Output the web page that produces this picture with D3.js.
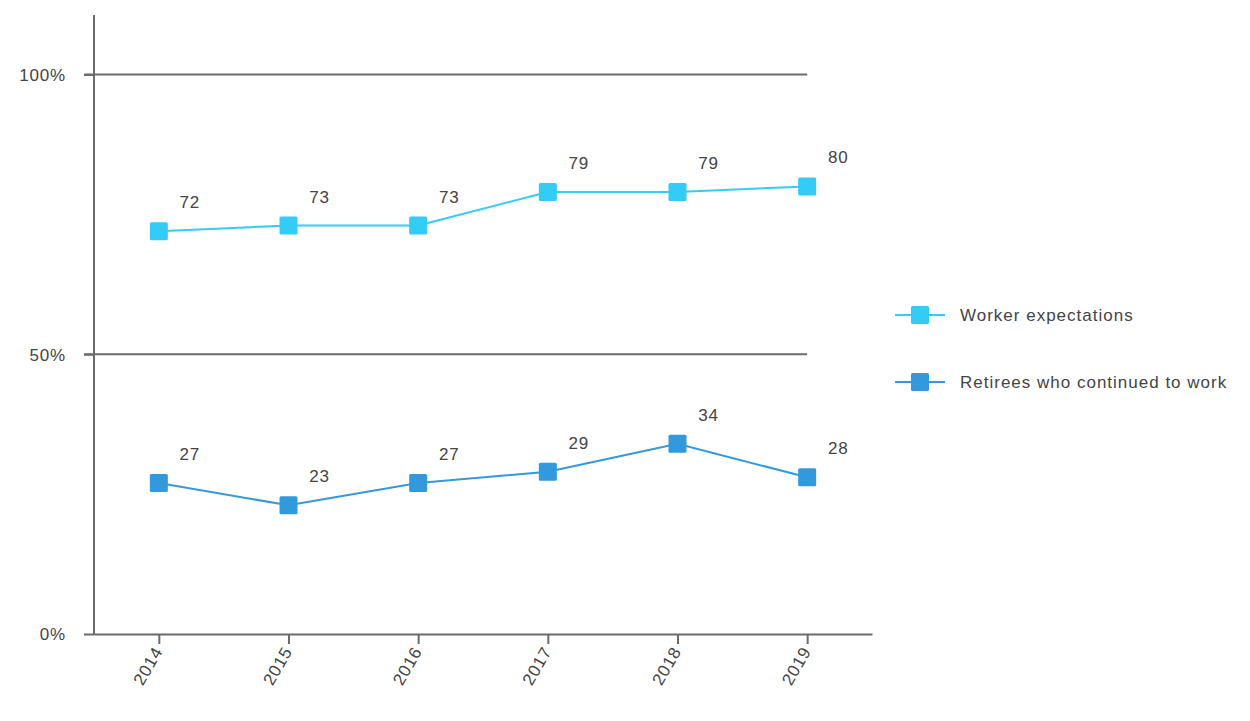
<!DOCTYPE html>
<html><head><meta charset="utf-8">
<script src="https://cdn.jsdelivr.net/npm/d3@7"></script>
<style>body{margin:0;background:#fff;} text{font-family:"Liberation Sans",Arial,sans-serif;fill:#444;letter-spacing:0.8px;}</style>
</head><body>
<svg id="c" width="1250" height="721"></svg>
<script>
const years = ["2014","2015","2016","2017","2018","2019"];
const workerExpectations = [72,73,73,79,79,80];
const retireesWorking = [27,23,27,29,34,28];
const yTicks = [0,50,100];
const seriesNames = ["Worker expectations","Retirees who continued to work"];
const seriesColors = ["#33ccf7","#3399dd"];
const series = [
  {name:seriesNames[0], values:workerExpectations, color:seriesColors[0]},
  {name:seriesNames[1], values:retireesWorking, color:seriesColors[1]}
];

const svg = d3.select("#c");
const axisColor = "#6b6b6b";
const x = d3.scalePoint().domain(years).range([94,872]).padding(0.5);
const y = d3.scaleLinear().domain([0,100]).range([634,74.5]);

// gridlines
svg.append("g").selectAll("line").data(yTicks.filter(d=>d>0)).join("line")
  .attr("x1",84).attr("x2",x(years[years.length-1]))
  .attr("y1",d=>y(d)).attr("y2",d=>y(d))
  .attr("stroke",axisColor).attr("stroke-width",2);

// y axis
const yAxis = svg.append("g").attr("transform","translate(94,0)")
  .call(d3.axisLeft(y).tickValues(yTicks).tickFormat(d=>d+"%").tickSize(10).tickPadding(18));
yAxis.select(".domain").remove();
yAxis.selectAll(".tick line").attr("stroke",axisColor).attr("stroke-width",2);
yAxis.selectAll("text").attr("font-size",17).style("fill","#444").attr("font-family","Liberation Sans, Arial, sans-serif").attr("dy","0.35em");
svg.append("line").attr("x1",94).attr("x2",94).attr("y1",15).attr("y2",635)
  .attr("stroke",axisColor).attr("stroke-width",2);

// x axis
const xAxis = svg.append("g").attr("transform","translate(0,634)")
  .call(d3.axisBottom(x).tickSize(10).tickSizeOuter(0));
xAxis.select(".domain").attr("stroke",axisColor).attr("stroke-width",2);
xAxis.selectAll(".tick line").attr("stroke",axisColor).attr("stroke-width",2);
xAxis.selectAll("text").attr("font-size",17).style("fill","#444").attr("font-family","Liberation Sans, Arial, sans-serif")
  .attr("text-anchor","end").attr("dy",null).attr("y",0)
  .attr("transform","translate(4,17) rotate(-60)");

// lines and markers
const line = d3.line().x((d,i)=>x(years[i])).y(d=>y(d));
const ms = 18;
series.forEach(s=>{
  const g = svg.append("g");
  g.append("path").attr("d",line(s.values)).attr("fill","none").attr("stroke",s.color).attr("stroke-width",2);
  g.selectAll("rect").data(s.values).join("rect")
    .attr("x",(d,i)=>x(years[i])-ms/2).attr("y",d=>y(d)-ms/2)
    .attr("width",ms).attr("height",ms).attr("fill",s.color).attr("rx",1.5);
  g.selectAll("text").data(s.values).join("text")
    .attr("x",(d,i)=>x(years[i])+31).attr("y",d=>y(d)-29)
    .attr("text-anchor","middle").attr("dy","0.35em").attr("font-size",17).text(d=>d);
});

// legend
const legY = [315,382];
series.forEach((s,i)=>{
  const g = svg.append("g").attr("transform",`translate(895,${legY[i]})`);
  g.append("line").attr("x1",0).attr("x2",50).attr("stroke",s.color).attr("stroke-width",2);
  g.append("rect").attr("x",25-ms/2).attr("y",-ms/2).attr("width",ms).attr("height",ms).attr("fill",s.color).attr("rx",1.5);
  g.append("text").attr("x",65).attr("dy","0.35em").attr("font-size",17).style("letter-spacing","1px").text(s.name);
});
</script>
</body></html>
